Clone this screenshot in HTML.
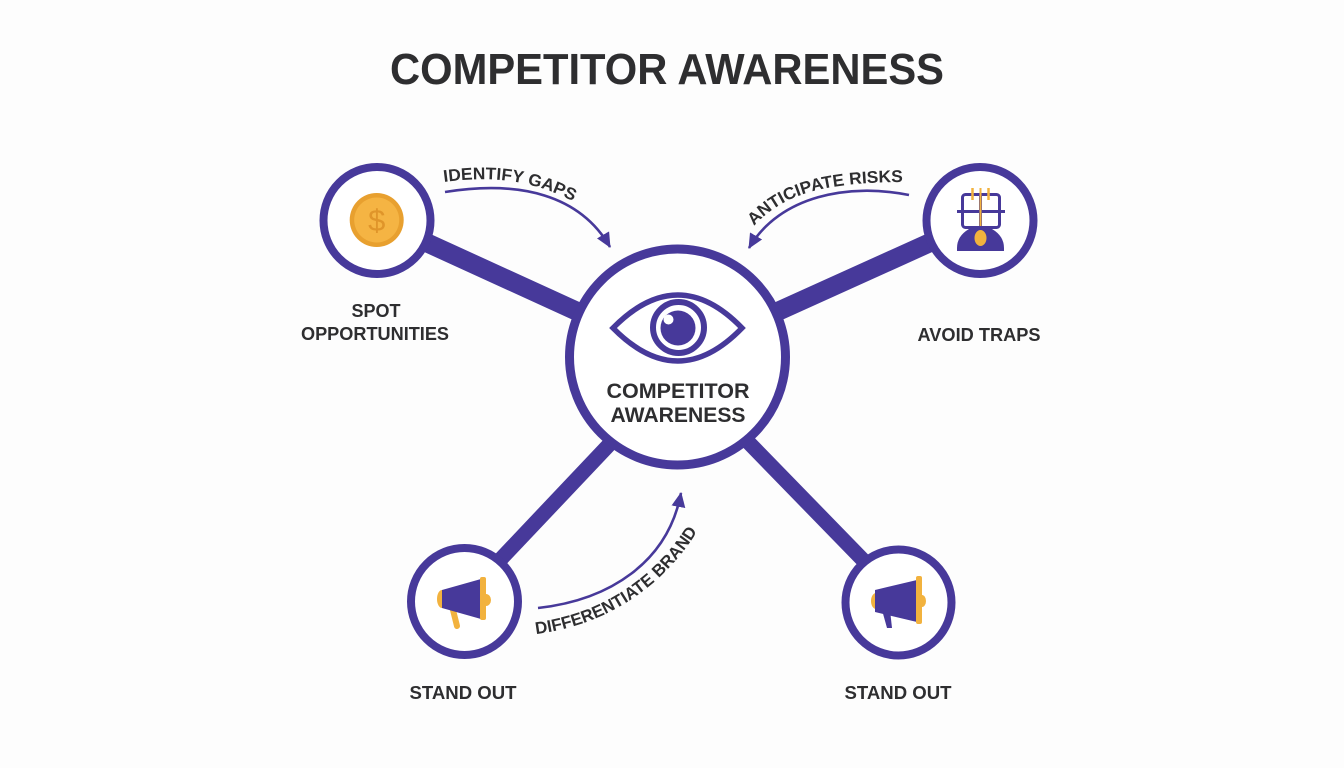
<!DOCTYPE html>
<html>
<head>
<meta charset="utf-8">
<style>
  html,body{margin:0;padding:0;background:#fdfdfd;}
  svg{display:block;}
  text{font-family:"Liberation Sans", sans-serif;font-weight:bold;fill:#2e2e30;}
</style>
</head>
<body>
<svg width="1344" height="768" viewBox="0 0 1344 768" xmlns="http://www.w3.org/2000/svg">
  <defs>
    <marker id="ah" markerUnits="userSpaceOnUse" markerWidth="16" markerHeight="14" refX="14" refY="7" orient="auto">
      <path d="M0 0 L15 7 L0 14 Z" fill="#47399a"/>
    </marker>
    <path id="p1" d="M 444 182 C 490 176 532 178 582 206"/>
    <path id="p2" d="M 754 226 C 784 194 822 182 910 182"/>
    <path id="p3" d="M 536 634 C 602 626 664 590 703 522"/>
  </defs>

  <rect width="1344" height="768" fill="#fdfdfd"/>

  <!-- Title -->
  <text x="667" y="84" font-size="44" text-anchor="middle" textLength="554" lengthAdjust="spacingAndGlyphs" fill="#333336">COMPETITOR AWARENESS</text>

  <!-- connectors -->
  <g stroke="#47399a" stroke-linecap="butt">
    <line x1="377" y1="220" x2="677" y2="357" stroke-width="19"/>
    <line x1="980" y1="220" x2="677" y2="357" stroke-width="19"/>
    <line x1="464" y1="598" x2="640" y2="412" stroke-width="15"/>
    <line x1="898" y1="596" x2="718" y2="411" stroke-width="15"/>
  </g>

  <!-- circles -->
  <g fill="#ffffff" stroke="#47399a">
    <circle cx="677.5" cy="357" r="108" stroke-width="9"/>
    <circle cx="377" cy="220.5" r="53.5" stroke-width="8"/>
    <circle cx="980" cy="220.5" r="53.5" stroke-width="8"/>
    <circle cx="464.5" cy="601.5" r="53.5" stroke-width="8"/>
    <circle cx="898.5" cy="602.5" r="53" stroke-width="8"/>
  </g>

  <!-- Eye -->
  <path d="M 613 328 Q 678 262 742 328 Q 678 394 613 328 Z" fill="none" stroke="#47399a" stroke-width="5.5"/>
  <circle cx="678.5" cy="327.5" r="25.5" fill="#fff" stroke="#47399a" stroke-width="6"/>
  <circle cx="678" cy="328" r="17.5" fill="#47399a"/>
  <circle cx="668.5" cy="319.5" r="5" fill="#fff"/>

  <!-- center text -->
  <text x="678" y="398" font-size="21.5" text-anchor="middle" textLength="143" lengthAdjust="spacingAndGlyphs">COMPETITOR</text>
  <text x="678" y="422" font-size="21.5" text-anchor="middle" textLength="135" lengthAdjust="spacingAndGlyphs">AWARENESS</text>

  <!-- Coin -->
  <circle cx="376.7" cy="220" r="27" fill="#e8a02f"/>
  <circle cx="376.7" cy="220" r="22.5" fill="#f5b443"/>
  <text x="376.7" y="231" font-size="31" text-anchor="middle" style="fill:#e0952a;font-weight:normal">$</text>

  <!-- Trap icon -->
  <g>
    <rect x="962.5" y="194.5" width="37" height="33" rx="3" fill="none" stroke="#47399a" stroke-width="3"/>
    <line x1="957" y1="211.5" x2="1005" y2="211.5" stroke="#47399a" stroke-width="3"/>
    <line x1="980.5" y1="194" x2="980.5" y2="228" stroke="#47399a" stroke-width="3"/>
    <line x1="980.5" y1="188" x2="980.5" y2="228" stroke="#f2b23e" stroke-width="2"/>
    <line x1="972.5" y1="188" x2="972.5" y2="200" stroke="#f2b23e" stroke-width="2.5"/>
    <line x1="988.5" y1="188" x2="988.5" y2="200" stroke="#f2b23e" stroke-width="2.5"/>
    <path d="M 969 229 Q 969 226 973 226 L 988 226 Q 992 226 992 229 Q 1004 236 1004 248 L 1004 251 L 957 251 L 957 248 Q 957 236 969 229 Z" fill="#47399a"/>
    <ellipse cx="980.5" cy="238" rx="6" ry="8" fill="#f2b23e"/>
  </g>

  <!-- Megaphone BL -->
  <g>
    <ellipse cx="442" cy="599" rx="5" ry="9" fill="#f2b23e"/>
    <line x1="452" y1="606" x2="457" y2="626" stroke="#f2b23e" stroke-width="6" stroke-linecap="round"/>
    <path d="M 442 590 L 481 579 L 481 619 L 442 608 Z" fill="#47399a"/>
    <ellipse cx="486" cy="600" rx="5" ry="6" fill="#f2b23e"/>
    <rect x="480" y="577" width="6" height="43" rx="2" fill="#f2b23e"/>
  </g>

  <!-- Megaphone BR -->
  <g>
    <ellipse cx="876" cy="601" rx="5" ry="8" fill="#f2b23e"/>
    <path d="M 882 610 L 890 610 L 892 628 L 887 628 Z" fill="#47399a"/>
    <path d="M 875 590 L 917 580 L 917 622 L 875 612 Z" fill="#47399a"/>
    <ellipse cx="922" cy="601" rx="4" ry="6" fill="#f2b23e"/>
    <rect x="916" y="576" width="6" height="48" rx="2" fill="#f2b23e"/>
  </g>

  <!-- curved arrows -->
  <g fill="none" stroke="#47399a" stroke-width="2.6">
    <path d="M 445 192 C 520 180 580 195 610 247" marker-end="url(#ah)"/>
    <path d="M 909 195 C 850 183 780 195 749 248" marker-end="url(#ah)"/>
    <path d="M 538 608 C 610 600 668 562 681 493" marker-end="url(#ah)"/>
  </g>

  <!-- curved labels -->
  <text font-size="17"><textPath href="#p1" textLength="133" lengthAdjust="spacingAndGlyphs">IDENTIFY GAPS</textPath></text>
  <text font-size="17"><textPath href="#p2" textLength="160" lengthAdjust="spacingAndGlyphs">ANTICIPATE RISKS</textPath></text>
  <text font-size="17"><textPath href="#p3" textLength="198" lengthAdjust="spacingAndGlyphs">DIFFERENTIATE BRAND</textPath></text>

  <!-- node labels -->
  <text x="376" y="317" font-size="18" text-anchor="middle">SPOT</text>
  <text x="375" y="340" font-size="18" text-anchor="middle" textLength="148" lengthAdjust="spacingAndGlyphs">OPPORTUNITIES</text>
  <text x="979" y="341" font-size="18" text-anchor="middle" textLength="123" lengthAdjust="spacingAndGlyphs">AVOID TRAPS</text>
  <text x="463" y="699" font-size="18" text-anchor="middle" textLength="107" lengthAdjust="spacingAndGlyphs">STAND OUT</text>
  <text x="898" y="699" font-size="18" text-anchor="middle" textLength="107" lengthAdjust="spacingAndGlyphs">STAND OUT</text>
</svg>
</body>
</html>
